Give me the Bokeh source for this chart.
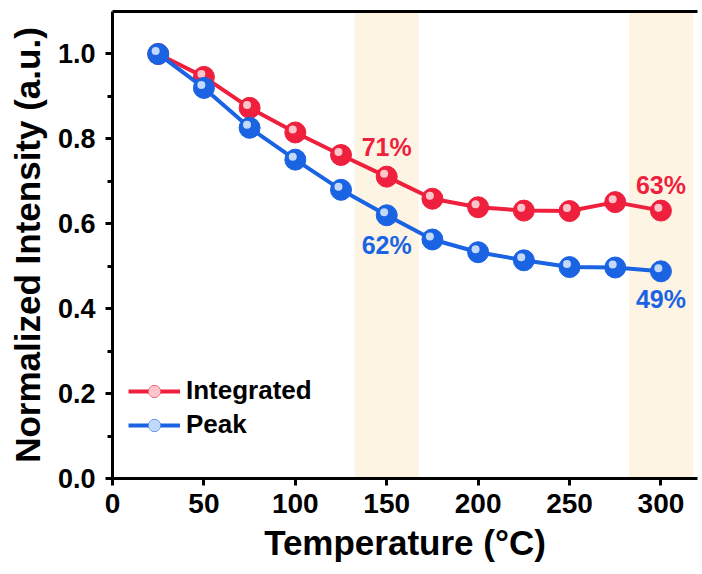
from bokeh.plotting import figure
from bokeh.models import Range1d, FixedTicker, LinearAxis, BoxAnnotation, ColumnDataSource, Legend, LegendItem, CustomJSTickFormatter
from bokeh.transform import dodge
from bokeh.core.properties import value
from bokeh.embed import file_html
from bokeh.resources import INLINE

temperature = [25, 50, 75, 100, 125, 150, 175, 200, 225, 250, 275, 300]
integrated = [1.0, 0.946, 0.873, 0.815, 0.762, 0.711, 0.659, 0.639, 0.631, 0.630, 0.651, 0.631]
peak = [1.0, 0.920, 0.826, 0.751, 0.680, 0.620, 0.563, 0.533, 0.514, 0.498, 0.497, 0.488]

x_ticks = [0, 50, 100, 150, 200, 250, 300]
y_ticks = [0.0, 0.2, 0.4, 0.6, 0.8, 1.0]
y_minor = [0.1, 0.3, 0.5, 0.7, 0.9]

band_left = [132.5, 282.5]
band_right = [167.5, 317.5]

label_text = ["71%", "62%", "63%", "49%"]
label_x = [150, 150, 300, 300]
label_y = [0.780, 0.551, 0.692, 0.422]
label_series = ["Integrated", "Peak", "Integrated", "Peak"]

RED = "#ef1f3e"
BLUE = "#1a63e2"
RED_HL = "#ffd6dc"
BLUE_HL = "#d6e6ff"
FONT = "Liberation Sans"

p = figure(width=702, height=574, output_backend="svg", toolbar_location=None,
           x_range=Range1d(0, 320), y_range=Range1d(0, 1.1),
           min_border_left=112, min_border_right=5, min_border_top=11, min_border_bottom=96)
p.background_fill_color = "white"
p.border_fill_color = "white"
p.outline_line_color = None
p.grid.visible = False

for l, r in zip(band_left, band_right):
    p.add_layout(BoxAnnotation(left=l, right=r, fill_color="#fdf4e3", fill_alpha=1.0,
                               line_color=None, level="underlay"))

src_i = ColumnDataSource(dict(x=temperature, y=integrated))
src_p = ColumnDataSource(dict(x=temperature, y=peak))

items = []
for src, col, hl, name in [(src_i, RED, RED_HL, "Integrated"), (src_p, BLUE, BLUE_HL, "Peak")]:
    ln = p.line("x", "y", source=src, line_color=col, line_width=4)
    sc = p.scatter("x", "y", source=src, size=21, fill_color=col, line_color=col)
    hlr = p.scatter(dodge("x", -1.4, range=p.x_range), dodge("y", 0.007, range=p.y_range),
                    source=src, size=8, fill_color=hl, line_color=None, fill_alpha=0.9)
    items.append(LegendItem(label=name, renderers=[ln, sc, hlr]))

for t, x, y, s in zip(label_text, label_x, label_y, label_series):
    p.text(x=[x], y=[y], text=[t], text_color=RED if s == "Integrated" else BLUE,
           text_font=value(FONT), text_font_style="bold", text_font_size="25px",
           text_align="center", text_baseline="middle")

legend = Legend(items=items, location=(16, 38), orientation="vertical")
legend.background_fill_alpha = 0
legend.border_line_color = None
legend.padding = 0
legend.margin = 0
legend.spacing = 3
legend.glyph_width = 52
legend.glyph_height = 30
legend.label_standoff = 6
legend.label_text_font = FONT
legend.label_text_font_style = "bold"
legend.label_text_font_size = "26px"
legend.label_text_color = "black"
p.add_layout(legend, "center")

xa = p.xaxis[0]
xa.ticker = FixedTicker(ticks=x_ticks, minor_ticks=[])
ya = p.yaxis[0]
ya.ticker = FixedTicker(ticks=y_ticks, minor_ticks=y_minor)
ya.formatter = CustomJSTickFormatter(code="return tick.toFixed(1);")

for ax in (xa, ya):
    ax.axis_line_width = 3
    ax.axis_line_color = "black"
    ax.major_tick_line_width = 3
    ax.major_tick_line_color = "black"
    ax.major_tick_out = 7
    ax.major_tick_in = 0
    ax.minor_tick_line_width = 3
    ax.minor_tick_line_color = "black"
    ax.minor_tick_out = 5
    ax.minor_tick_in = 0
    ax.major_label_text_font = FONT
    ax.major_label_text_font_style = "bold"
    ax.major_label_text_color = "black"
    ax.axis_label_text_font = FONT
    ax.axis_label_text_font_style = "bold"
    ax.axis_label_text_color = "black"

xa.major_label_text_font_size = "28px"
ya.major_label_text_font_size = "27px"
xa.axis_label_text_font_size = "35px"
ya.axis_label_text_font_size = "35px"
xa.axis_label = "Temperature (°C)"
ya.axis_label = "Normalized Intensity (a.u.)"
xa.major_label_standoff = 8
ya.major_label_standoff = 10
xa.axis_label_standoff = 7
ya.axis_label_standoff = 8

top = LinearAxis(ticker=FixedTicker(ticks=[]), major_label_text_font_size="0px",
                 axis_line_width=3, axis_line_color="black",
                 major_tick_out=0, minor_tick_out=0)
p.add_layout(top, "above")

open("out.html", "w").write(file_html(p, INLINE))
